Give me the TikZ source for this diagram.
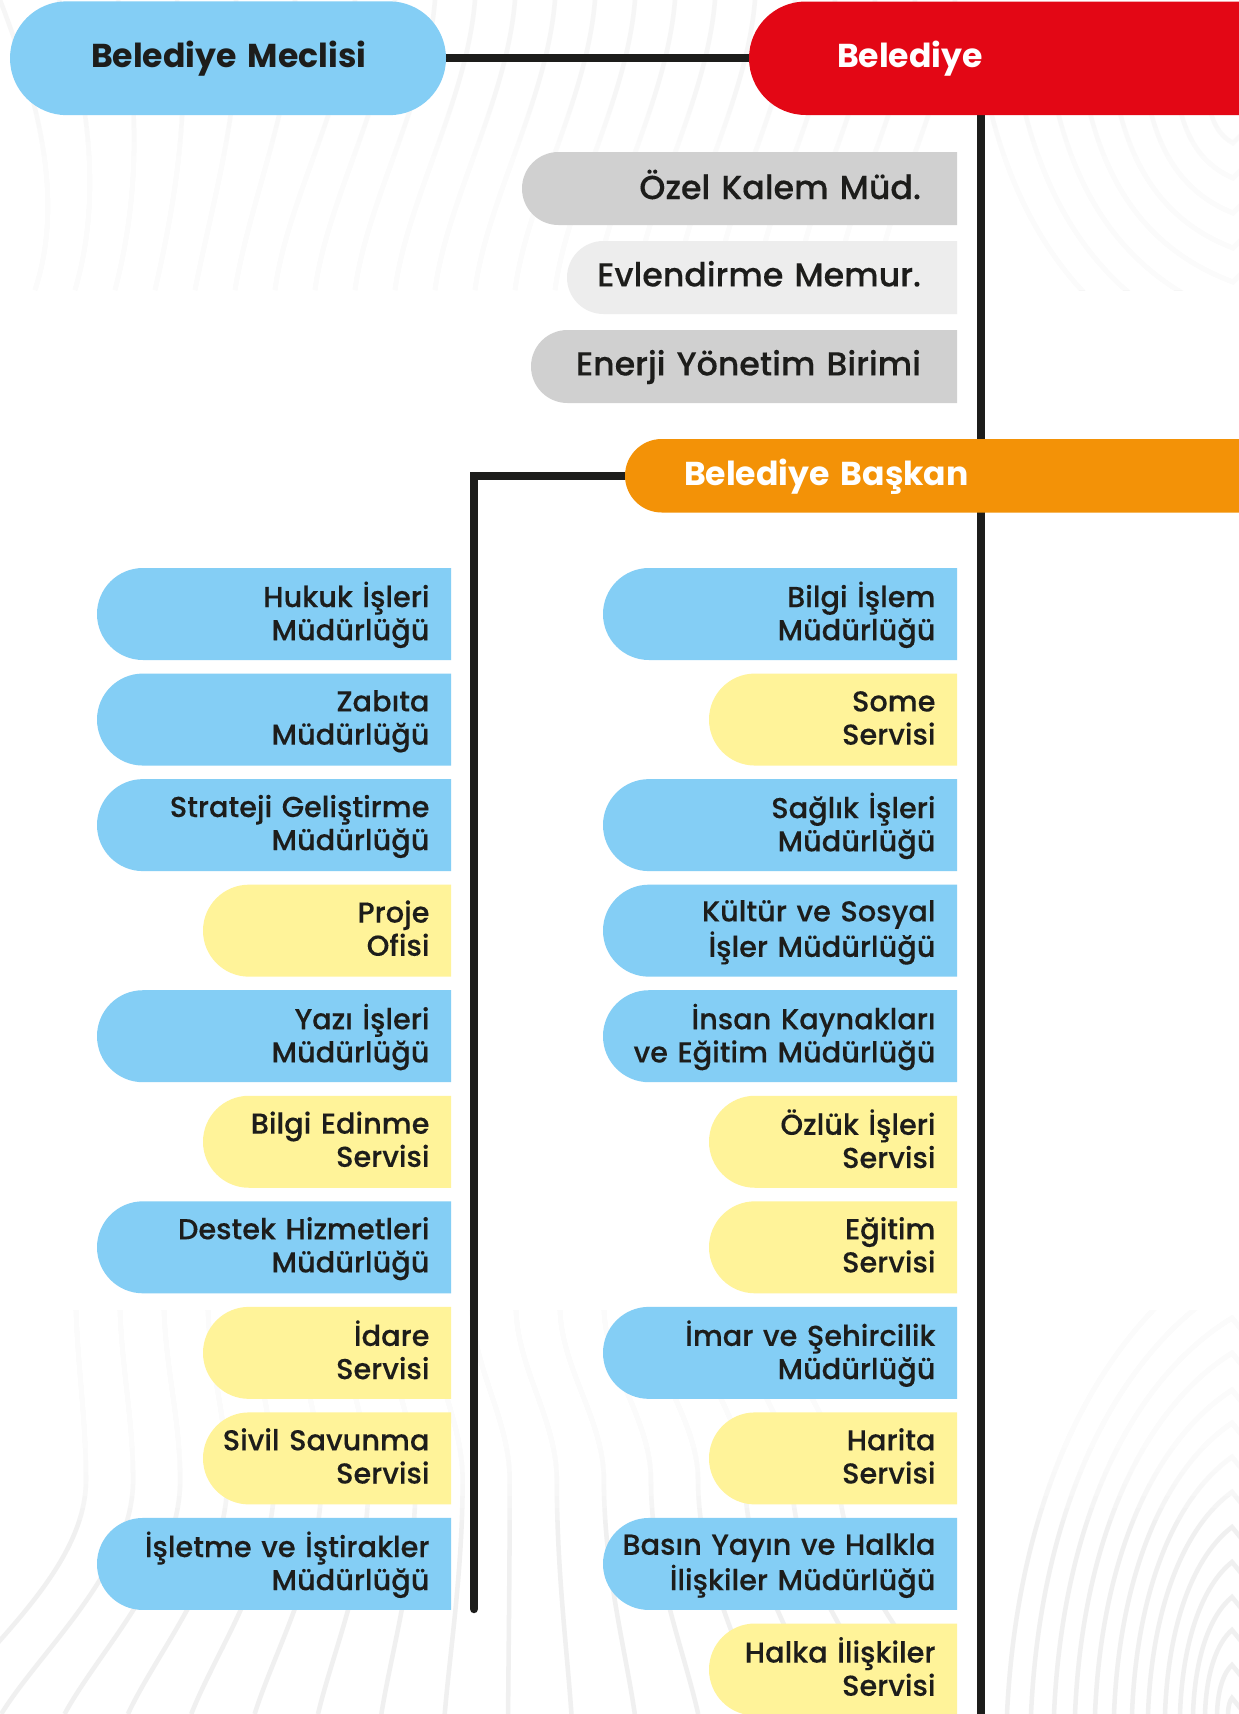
\documentclass[tikz,border=0pt]{standalone}
\usepackage{fontspec}
\setmainfont{Poppins Medium}[FakeBold=0.2,BoldFont={Poppins Bold},BoldFeatures={FakeBold=0},Ligatures=NoCommon,WordSpace=0.85]
\definecolor{skyc}{HTML}{84CEF5}
\definecolor{redc}{HTML}{E30715}
\definecolor{orac}{HTML}{F39207}
\definecolor{yelc}{HTML}{FFF399}
\definecolor{grayc}{HTML}{D0D0D0}
\definecolor{lgrayc}{HTML}{EDEDED}
\definecolor{inkc}{HTML}{1D1D1B}
\definecolor{wavec}{HTML}{F0F0F0}
\definecolor{waveup}{HTML}{F6F6F6}
\pgfdeclarelayer{art}
\pgfdeclarelayer{lines}
\pgfsetlayers{art,lines,main}
\tikzset{
  x=0.75pt,y=-0.75pt,
  skyfill/.style={fill=skyc},
  redfill/.style={fill=redc},
  orafill/.style={fill=orac},
  yelfill/.style={fill=yelc},
  grayfill/.style={fill=grayc},
  lgrayfill/.style={fill=lgrayc},
  conn/.style={draw=inkc,line width=6.3pt,line cap=round},
  wave/.style={draw=wavec,line width=3.4pt},
  celltext/.style={align=right,text=inkc,yshift=-1.4pt,font=\fontsize{21.6}{24.9}\selectfont},
  graytext/.style={align=right,text=inkc,yshift=-1.1pt,font=\fontsize{24.9}{28}\selectfont},
  headtext/.style={align=left,font=\fontsize{24.8}{29}\selectfont\bfseries},
}
\newcommand\rtext[1]{\leavevmode\llap{\begin{tabular}{@{}r@{}}#1\end{tabular}}}
\newcommand\htext[1]{\strut\rlap{\raisebox{-1.5pt}{#1}}}
% #1 node style, #2 name, #3 xl, #4 xr, #5 yt, #6 yb, #7 fill style, #8 pad, #9 text
\newcommand\pillbox[9]{%
  \pgfmathsetmacro\rr{(#6-#5)/2*0.75}%
  \path[#7] (#4,#5) [rounded corners=\rr pt] -- (#3,#5) -- (#3,#6) [sharp corners] -- (#4,#6) -- cycle;
  \pgfmathsetmacro\tw{(#4-#3-2*#8)*0.75}%
  \node[#1,inner ysep=0pt,inner xsep=#8*0.75pt,text width=\tw pt] (#2) at ({(#3+#4)/2},{(#5+#6)/2}) {#9};
}
% #1 name, #2 xl, #3 xr, #4 row, #5 fill, #6 text
\newcommand\cellbox[6]{%
  \pgfmathsetmacro\yta{568+105.55*#4}%
  \pgfmathsetmacro\ybb{\yta+92}%
  \pillbox{celltext}{#1}{#2}{#3}{\yta}{\ybb}{#5}{21.5}{\rtext{#6}}
}
\begin{document}
\begin{tikzpicture}
\useasboundingbox (0,0) rectangle (1239,1714);
\begin{pgfonlayer}{art}
  \fill[white] (0,0) rectangle (1239,1714);
  % upper waves
  \begin{scope}
    \clip (0,0) rectangle (1239,290);
    \foreach \i in {0,...,21}{
      \pgfmathsetmacro\xb{35+40*\i}
      \pgfmathsetmacro\lean{\i<6 ? -35+19*\i : 80}
      \pgfmathsetmacro\xo{\xb+\lean}
      \pgfmathsetmacro\bow{\i<6 ? 35*(1-\i/6) : 0}
      \draw[wave,draw=waveup] (\xo,0) .. controls ({\xo+(\xb-\xo)*0.1+\bow},100) and ({\xb+(\xo-\xb)*0.15+\bow},200) .. (\xb,290);
    }
    \foreach \xs/\ap in {1208/143,1178/178,1148/213,1117/248,1087/282,1055/317,1022/352,988/387}{
      \pgfmathsetmacro\dx{1233-\xs}
      \pgfmathsetmacro\dy{\ap-100}
      \draw[wave,draw=waveup] (\xs,100) .. controls ({\xs+0.15*\dx},{100+0.55*\dy}) and ({\xs+0.5*\dx},{100+0.85*\dy}) .. (1233,\ap) -- (1255,{\ap-22});
    }
    \foreach \k in {0,...,13}{
      \fill[white,opacity=0.22] (0,{100+\k*14}) rectangle (1239,290);
    }
  \end{scope}
  % lower waves
  \begin{scope}
    \clip (0,1310) rectangle (1239,1714);
    \foreach \i in {0,...,16}{
      \pgfmathsetmacro\xt{76+44*\i}
      \pgfmathsetmacro\xm{\xt+10+0.07*(\xt-76)}
      \pgfmathsetmacro\xe{1.44*\xt-171.6}
      \draw[wave] (\xt,1310) .. controls ({\xt+2},1370) and (\xm,1420) .. (\xm,1480) .. controls (\xm,1570) and ({\xe+(\xm-\xe)*0.3},1650) .. (\xe,1714);
    }
    \foreach \xs/\ap in {1228/1698,1217/1665,1205/1630,1193/1597,1180/1562,1165/1527,1148/1492,1132/1457,1114/1423,1095/1390,1075/1353,1054/1318,1031/1283,1007/1248}{
      \pgfmathsetmacro\dx{1232-\xs}
      \pgfmathsetmacro\dy{1714-\ap}
      \draw[wave] (\xs,1714) .. controls ({\xs+0.05*\dx},{1714-0.5*\dy}) and ({\xs+0.45*\dx},{1714-0.85*\dy}) .. (1232,\ap) -- (1250,{\ap+22});
    }
    \foreach \k in {0,...,17}{
      \fill[white,opacity=0.2] (0,1310) rectangle (1239,{1520-\k*12});
    }
  \end{scope}
\end{pgfonlayer}

\node[fill=skyc,rounded corners=42.7pt,minimum width=327pt,minimum height=85.4pt,inner sep=0pt,headtext,text=inkc,text width=327pt-2*60.8pt] (mec) at (228,58.25) {\htext{Belediye Meclisi}};
\pillbox{headtext,text=white}{bel}{749}{1245}{1.5}{115}{redfill}{88}{\htext{Belediye}}
\pillbox{headtext,text=white}{bsk}{625}{1245}{439}{512.5}{orafill}{59}{\htext{Belediye Başkan}}

\pillbox{graytext}{ozel}{522}{957}{152}{225}{grayfill}{36}{\rtext{Özel Kalem Müd.}}
\pillbox{graytext}{evl}{567}{957}{241}{314}{lgrayfill}{36}{\rtext{Evlendirme Memur.}}
\pillbox{graytext}{ene}{531}{957}{330}{403}{grayfill}{36}{\rtext{Enerji Yönetim Birimi}}

\cellbox{la}{97}{451}{0}{skyfill}{Hukuk İşleri\\Müdürlüğü}
\cellbox{lb}{97}{451}{1}{skyfill}{Zabıta\\Müdürlüğü}
\cellbox{lc}{97}{451}{2}{skyfill}{Strateji Geliştirme\\Müdürlüğü}
\cellbox{ld}{203}{451}{3}{yelfill}{Proje\\Ofisi}
\cellbox{le}{97}{451}{4}{skyfill}{Yazı İşleri\\Müdürlüğü}
\cellbox{lf}{203}{451}{5}{yelfill}{Bilgi Edinme\\Servisi}
\cellbox{lg}{97}{451}{6}{skyfill}{Destek Hizmetleri\\Müdürlüğü}
\cellbox{lh}{203}{451}{7}{yelfill}{İdare\\Servisi}
\cellbox{li}{203}{451}{8}{yelfill}{Sivil Savunma\\Servisi}
\cellbox{lj}{97}{451}{9}{skyfill}{İşletme ve İştirakler\\Müdürlüğü}

\cellbox{ra}{603}{957}{0}{skyfill}{Bilgi İşlem\\Müdürlüğü}
\cellbox{rb}{709}{957}{1}{yelfill}{Some\\Servisi}
\cellbox{rc}{603}{957}{2}{skyfill}{Sağlık İşleri\\Müdürlüğü}
\cellbox{rd}{603}{957}{3}{skyfill}{Kültür ve Sosyal\\İşler Müdürlüğü}
\cellbox{re}{603}{957}{4}{skyfill}{İnsan Kaynakları\\ve Eğitim Müdürlüğü}
\cellbox{rf}{709}{957}{5}{yelfill}{Özlük İşleri\\Servisi}
\cellbox{rg}{709}{957}{6}{yelfill}{Eğitim\\Servisi}
\cellbox{rh}{603}{957}{7}{skyfill}{İmar ve Şehircilik\\Müdürlüğü}
\cellbox{ri}{709}{957}{8}{yelfill}{Harita\\Servisi}
\cellbox{rj}{603}{957}{9}{skyfill}{Basın Yayın ve Halkla\\İlişkiler Müdürlüğü}
\cellbox{rk}{709}{957}{10}{yelfill}{Halka İlişkiler\\Servisi}

\coordinate (trunkend) at (981,1730);
\coordinate (leftend) at (474,1609);
\begin{pgfonlayer}{lines}
  \draw[conn] (mec.east) -- (bel.west);
  \draw[conn] (trunkend |- bel.south) -- (trunkend);
  \draw[conn,line cap=round] (bsk.west) -| (leftend);
\end{pgfonlayer}
\end{tikzpicture}
\end{document}
